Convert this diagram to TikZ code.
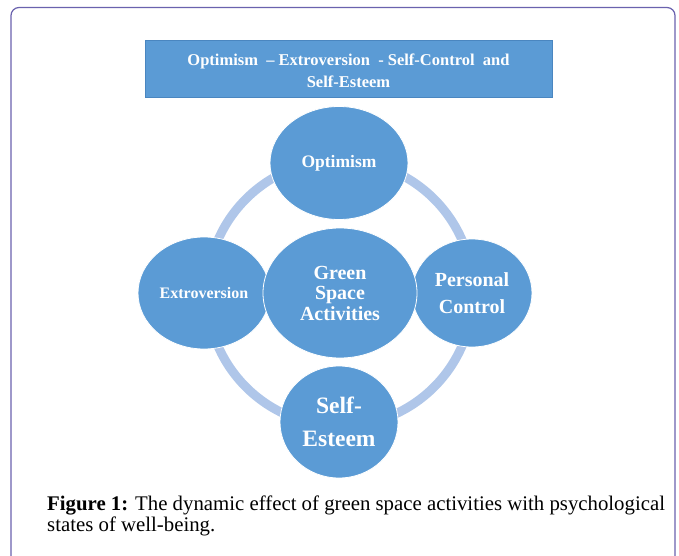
\documentclass[tikz,border=0pt]{standalone}
\usepackage{fontspec}
\setmainfont{Liberation Serif}
\usetikzlibrary{shapes.geometric}
\definecolor{bub}{HTML}{5B9BD5}
\definecolor{bubedge}{HTML}{4A86C0}
\definecolor{ringc}{HTML}{AFC6E9}
\definecolor{framec}{HTML}{6A62AE}
\tikzset{
  bubble/.style={ellipse, fill=bub, draw=white, line width=0.8pt, inner sep=0pt,
    text=white, align=center},
}
\begin{document}
\begin{tikzpicture}[x=1pt,y=-1pt]
\useasboundingbox (0,0) rectangle (679,556);
\fill[white] (0,0) rectangle (679,556);
% frame
\draw[framec, line width=1.2pt, rounded corners=8pt] (11,570) -- (11,7.5) -- (675,7.5) -- (675,570);
% title box
\node[draw=bubedge, fill=bub, line width=0.8pt, minimum width=407pt, minimum height=57pt,
  inner sep=0pt] (title) at (348.5,68.5) {};
\node[text=white, inner sep=0pt, font=\bfseries\fontsize{16.5}{22}\selectfont, align=center]
  (titletext) at ([yshift=-2.5pt]title.center) {Optimism ~–~Extroversion ~-~Self-Control ~and\\Self-Esteem};
% ring
\coordinate (rc) at (340,293);
\draw[ringc, line width=9pt] (rc) circle[radius=133];
% bubbles
\node[bubble, minimum width=138pt, minimum height=113pt, font=\bfseries\fontsize{17.5}{20}\selectfont] (opt) at (339,163) {Optimism};
\node[bubble, minimum width=132pt, minimum height=112pt, font=\bfseries\fontsize{16}{18}\selectfont] (ext) at (204,293) {Extroversion};
\node[bubble, minimum width=120pt, minimum height=108pt, font=\bfseries\fontsize{20}{27}\selectfont] (pc) at (472,293) {Personal\\Control};
\node[bubble, minimum width=118pt, minimum height=112pt, font=\bfseries\fontsize{23.5}{33}\selectfont] (se) at (339,422) {Self-\\Esteem};
\node[bubble, minimum width=154pt, minimum height=130pt, font=\bfseries\fontsize{20}{20.5}\selectfont] (gsa) at (340,293) {Green\\Space\\Activities};
% caption
\node[anchor=base west, inner sep=0pt, font=\fontsize{20.8}{21}\selectfont] (cap1) at (47,510) {\textbf{Figure 1:} The dynamic effect of green space activities with psychological};
\node[anchor=base west, inner sep=0pt, font=\fontsize{20.8}{21}\selectfont] (cap2) at (47,531) {states of well-being.};
\end{tikzpicture}
\end{document}
